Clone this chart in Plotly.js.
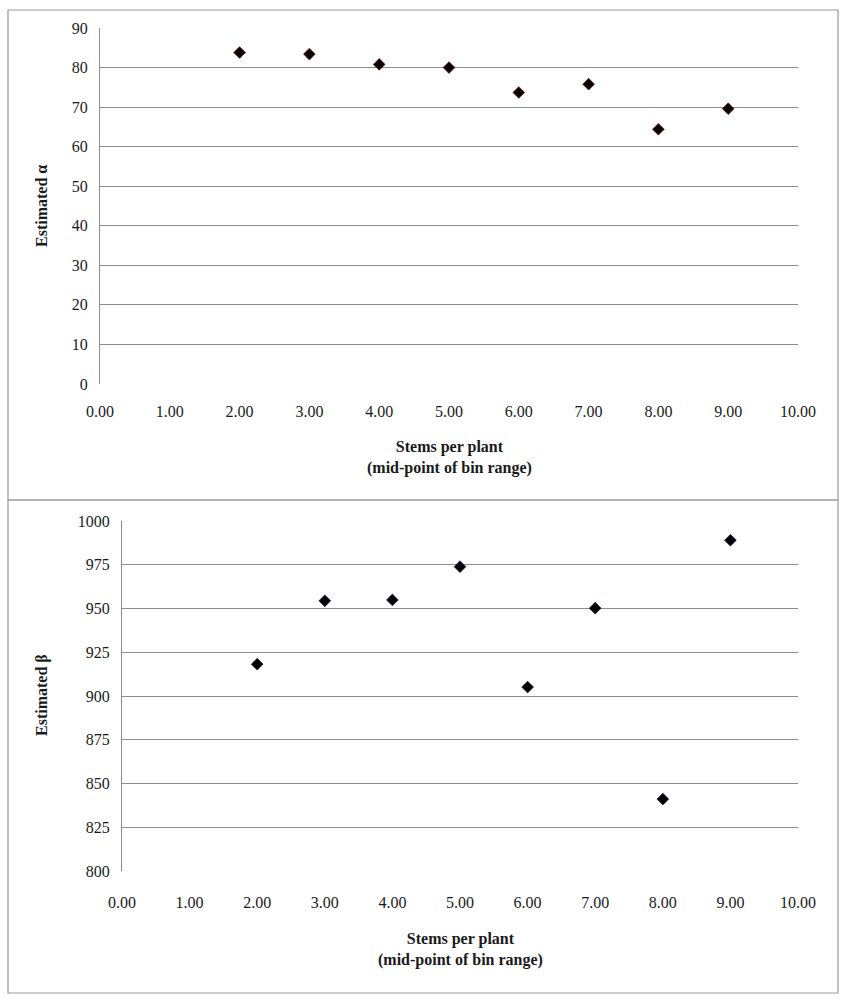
<!DOCTYPE html>
<html>
<head>
<meta charset="utf-8">
<script src="https://cdn.plot.ly/plotly-3.0.1.min.js"></script>
<style>html,body{margin:0;padding:0;background:#fff;}#chart{width:845px;height:1000px;}</style>
</head>
<body>
<div id="chart"></div>
<script>
const stems = [2, 3, 4, 5, 6, 7, 8, 9];
const alphaValues = [83.8, 83.4, 80.8, 80.0, 73.7, 75.8, 64.4, 69.6];
const betaValues = [918.2, 954.4, 954.9, 973.9, 905.1, 950.2, 841.1, 989.0];
const xTickVals = [0,1,2,3,4,5,6,7,8,9,10];
const xTickText = ["0.00","1.00","2.00","3.00","4.00","5.00","6.00","7.00","8.00","9.00","10.00"];
const alphaTicks = [0,10,20,30,40,50,60,70,80,90];
const betaTicks = [800,825,850,875,900,925,950,975,1000];

const W = 845, H = 1000;
const px = v => v / W;
const py = v => 1 - v / H;

const FAM = "Times New Roman, Liberation Serif, serif";
const font = {family: FAM, size: 16, color: "#1a1a1a"};
const titleFont = {family: FAM, size: 16, color: "#1a1a1a"};

const traces = [
  {x: stems, y: alphaValues, type: "scatter", mode: "markers", xaxis: "x", yaxis: "y",
   marker: {symbol: "diamond", size: 9, color: "#000", line: {color: "#7a1010", width: 0.8}}},
  {x: stems, y: betaValues, type: "scatter", mode: "markers", xaxis: "x2", yaxis: "y2",
   marker: {symbol: "diamond", size: 9, color: "#000", line: {color: "#10204a", width: 0.8}}}
];

const axisCommon = {showgrid: false, zeroline: false, ticks: "", tickfont: font, fixedrange: true};

const layout = {
  width: W, height: H,
  margin: {l: 0, r: 0, t: 0, b: 0},
  paper_bgcolor: "#fff", plot_bgcolor: "#fff",
  showlegend: false,
  font: {family: FAM},
  xaxis: Object.assign({}, axisCommon, {
    domain: [px(100), px(798)], range: [0, 10], tickvals: xTickVals, ticktext: xTickText,
    anchor: "y", showline: false, ticklabelstandoff: 16
  }),
  yaxis: Object.assign({}, axisCommon, {
    domain: [py(384), py(28)], range: [0, 90], tickvals: alphaTicks,
    anchor: "x", showgrid: true, gridcolor: "#8c8c8c", gridwidth: 1,
    showline: true, linecolor: "#8c8c8c", linewidth: 1, ticklabelstandoff: 8
  }),
  xaxis2: Object.assign({}, axisCommon, {
    domain: [px(122), px(798)], range: [0, 10], tickvals: xTickVals, ticktext: xTickText,
    anchor: "y2", showline: false, ticklabelstandoff: 20
  }),
  yaxis2: Object.assign({}, axisCommon, {
    domain: [py(871), py(521)], range: [800, 1000], tickvals: betaTicks,
    anchor: "x2", showgrid: true, gridcolor: "#8c8c8c", gridwidth: 1,
    showline: true, linecolor: "#8c8c8c", linewidth: 1, ticklabelstandoff: 8
  }),
  shapes: [
    {type: "rect", xref: "paper", yref: "paper", x0: px(8), x1: px(838), y0: py(500), y1: py(10),
     line: {color: "#9a9a9a", width: 1.2}},
    {type: "rect", xref: "paper", yref: "paper", x0: px(8), x1: px(838), y0: py(993), y1: py(500),
     line: {color: "#9a9a9a", width: 1.2}}
  ],
  annotations: [
    {xref: "paper", yref: "paper", x: px(449), y: py(457), text: "<b>Stems per plant<br>(mid-point of bin range)</b>",
     showarrow: false, font: titleFont, align: "center", xanchor: "center", yanchor: "middle"},
    {xref: "paper", yref: "paper", x: px(460), y: py(949), text: "<b>Stems per plant<br>(mid-point of bin range)</b>",
     showarrow: false, font: titleFont, align: "center", xanchor: "center", yanchor: "middle"},
    {xref: "paper", yref: "paper", x: px(42), y: py(206), text: "<b>Estimated α</b>",
     showarrow: false, font: titleFont, textangle: -90, xanchor: "center", yanchor: "middle"},
    {xref: "paper", yref: "paper", x: px(42), y: py(695), text: "<b>Estimated β</b>",
     showarrow: false, font: titleFont, textangle: -90, xanchor: "center", yanchor: "middle"}
  ]
};

Plotly.newPlot("chart", traces, layout, {staticPlot: true, displayModeBar: false});
</script>
</body>
</html>
